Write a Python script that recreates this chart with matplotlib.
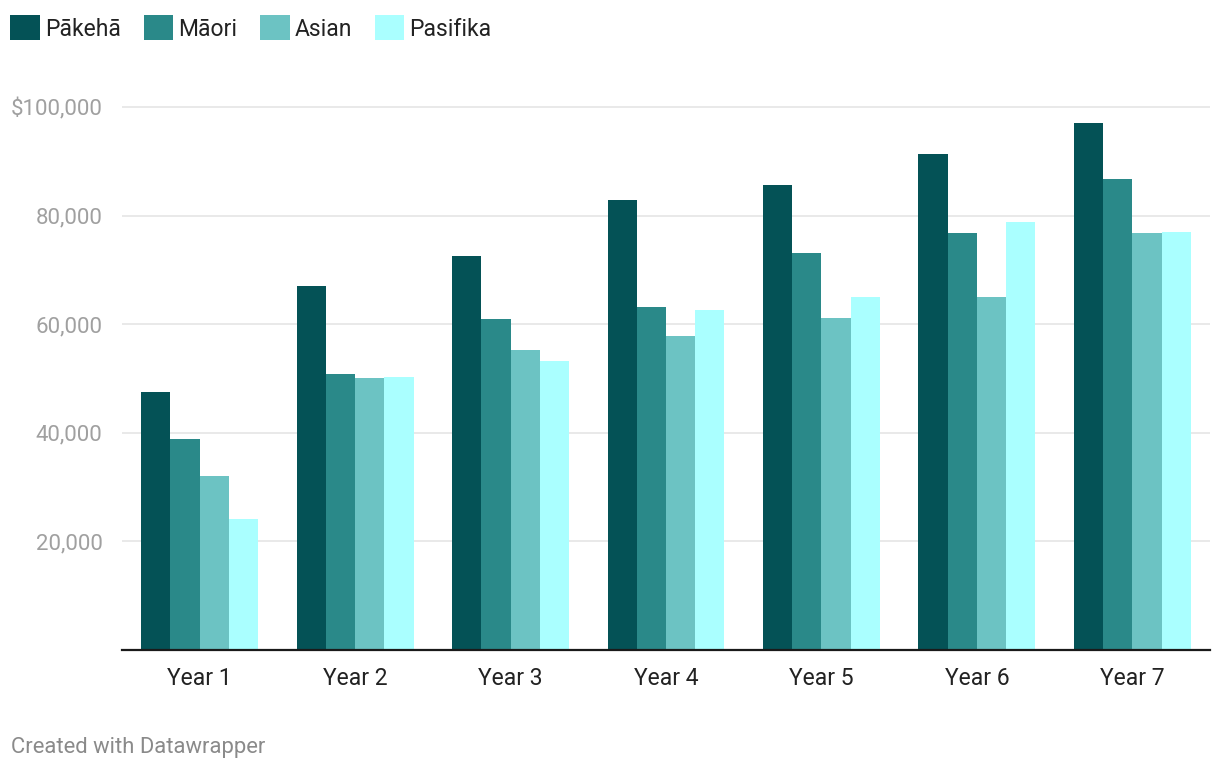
import numpy as np
import matplotlib
matplotlib.use("Agg")
import matplotlib.pyplot as plt
from matplotlib.ticker import FuncFormatter

plt.rcParams['font.family'] = ['Roboto', 'DejaVu Sans']

years = ['Year 1', 'Year 2', 'Year 3', 'Year 4', 'Year 5', 'Year 6', 'Year 7']
groups = ['Pākehā', 'Māori', 'Asian', 'Pasifika']
pakeha = [47500, 67000, 72500, 82800, 85700, 91300, 97000]
maori = [38800, 50800, 60900, 63100, 73200, 76800, 86700]
asian = [32000, 50100, 55200, 57800, 61100, 65100, 76800]
pasifika = [24100, 50300, 53200, 62600, 65000, 78800, 76900]
colors = ['#045256', '#2a8989', '#6cc3c3', '#aaffff']

series = [pakeha, maori, asian, pasifika]

fig = plt.figure(figsize=(12.2, 7.72), dpi=100)
ax = fig.add_axes([122 / 1220, 1 - 650 / 772, (1210 - 122) / 1220, 550 / 772])

x = np.arange(len(years))
w = 0.188
for i, (vals, name, c) in enumerate(zip(series, groups, colors)):
    ax.bar(x + (i - 1.5) * w, vals, width=w, color=c, label=name, zorder=3)

ax.set_xlim(-0.5, 6.5)
ax.set_ylim(0, 101289)
ax.set_yticks([20000, 40000, 60000, 80000, 100000])
ax.yaxis.set_major_formatter(FuncFormatter(
    lambda v, p: '$100,000' if v >= 100000 else f'{int(v):,}'))
ax.grid(axis='y', color='#e3e3e3', linewidth=1.1, zorder=0)
ax.set_xticks(x)
ax.set_xticklabels(years)

for s in ['top', 'right', 'left']:
    ax.spines[s].set_visible(False)
ax.spines['bottom'].set_color('#1a1a1a')
ax.spines['bottom'].set_linewidth(1.6)
ax.spines['bottom'].set_zorder(4)

ax.tick_params(axis='y', length=0, pad=14, labelsize=16, labelcolor='#a0a0a0')
ax.tick_params(axis='x', length=0, pad=12, labelsize=16.5, labelcolor='#222222')

fig.legend(loc='upper left', bbox_to_anchor=(0.001, 0.992), ncol=4, frameon=False,
           fontsize=16.5, handlelength=1.3, handleheight=1.3, handletextpad=0.2,
           columnspacing=1.0, borderaxespad=0, labelcolor='#222222')

fig.text(11 / 1220, 1 - 748 / 772, 'Created with Datawrapper', fontsize=15.8,
         color='#8a8a8a', va='center', ha='left')

fig.savefig('out.png', dpi=100)
